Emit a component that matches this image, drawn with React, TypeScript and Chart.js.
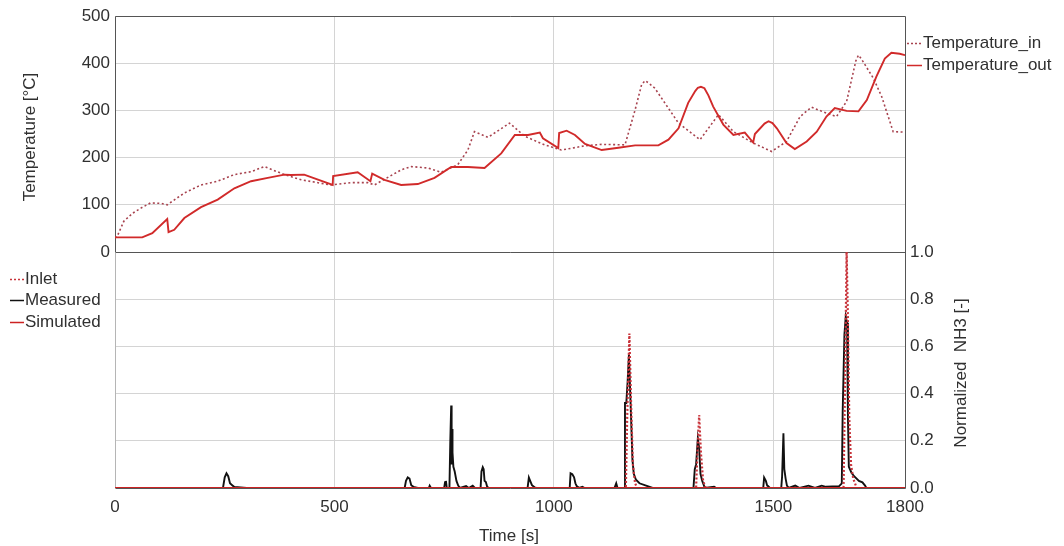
import React, { useEffect, useRef } from 'react';
import { Chart, registerables } from 'chart.js';

Chart.register(...registerables);

// ---------- data ----------
const timeTicks = [0, 500, 1000, 1500, 1800];
const tempTicks = [0, 100, 200, 300, 400, 500];
const nh3Ticks = [0, 0.2, 0.4, 0.6, 0.8, 1.0];

const tempInTime = [0, 5, 20, 40, 59, 81, 105, 119, 158, 196, 234, 272, 310, 340, 386, 424, 492, 538, 576, 591, 652, 675, 713, 743, 781, 804, 819, 850, 899, 934, 979, 1017, 1071, 1109, 1162, 1185, 1200, 1208, 1216, 1230, 1284, 1333, 1375, 1409, 1454, 1496, 1530, 1561, 1587, 1621, 1644, 1667, 1688, 1694, 1700, 1728, 1747, 1773, 1800];
const tempInValue = [30, 33, 65, 82, 93, 104, 103, 100, 125, 142, 150, 164, 170, 181, 164, 153, 142, 147, 147, 142, 174, 181, 178, 169, 185, 216, 255, 243, 273, 245, 227, 216, 225, 228, 227, 301, 355, 363, 358, 347, 273, 238, 291, 255, 231, 213, 234, 287, 307, 294, 287, 319, 405, 417, 410, 368, 329, 255, 254];

const tempOutTime = [0, 62, 85, 119, 122, 135, 158, 196, 234, 272, 310, 348, 386, 401, 431, 496, 497, 553, 582, 586, 614, 652, 690, 728, 766, 804, 842, 880, 911, 941, 968, 975, 1010, 1012, 1029, 1048, 1071, 1109, 1147, 1185, 1238, 1261, 1284, 1306, 1322, 1328, 1335, 1343, 1352, 1363, 1386, 1409, 1435, 1454, 1458, 1480, 1489, 1498, 1508, 1530, 1549, 1576, 1599, 1621, 1640, 1667, 1694, 1713, 1735, 1754, 1769, 1788, 1800];
const tempOutValue = [31, 31, 40, 70, 42, 47, 72, 95, 111, 135, 150, 157, 164, 163, 164, 142, 161, 169, 150, 166, 153, 142, 144, 157, 180, 180, 178, 209, 248, 248, 253, 241, 220, 252, 257, 248, 229, 216, 221, 226, 226, 238, 262, 316, 341, 348, 350, 347, 332, 308, 270, 248, 253, 232, 250, 272, 277, 273, 262, 231, 218, 234, 255, 287, 305, 299, 298, 322, 372, 410, 422, 420, 417];

const inletTime = [0, 1164, 1167, 1172, 1176, 1180, 1185, 1190, 1324, 1327, 1331, 1335, 1340, 1346, 1660, 1663, 1667, 1670, 1673, 1677, 1682, 1690, 1800];
const inletValue = [0, 0, 0.3, 0.655, 0.35, 0.1, 0.02, 0, 0, 0.15, 0.309, 0.15, 0.03, 0, 0, 0.4, 1.0, 0.7, 0.3, 0.1, 0.04, 0, 0];

const measuredTime = [0, 246, 250, 254, 258, 262, 267, 272, 300, 660, 663, 667, 671, 675, 680, 690, 715, 717, 720, 750, 752, 754, 756, 762, 764, 766, 767, 768, 769, 771, 774, 778, 782, 786, 800, 806, 815, 820, 833, 835, 838, 840, 842, 845, 848, 852, 940, 943, 946, 950, 956, 960, 1036, 1038, 1042, 1046, 1049, 1052, 1058, 1065, 1070, 1138, 1142, 1145, 1160, 1162, 1165, 1168, 1171, 1174, 1176, 1179, 1182, 1187, 1195, 1210, 1225, 1318, 1321, 1324, 1328, 1331, 1334, 1338, 1344, 1365, 1370, 1477, 1479, 1483, 1486, 1488, 1492, 1518, 1520, 1523, 1525, 1528, 1531, 1535, 1550, 1560, 1580, 1595, 1610, 1620, 1650, 1656, 1658, 1662, 1665, 1668, 1670, 1672, 1678, 1684, 1695, 1703, 1709, 1712, 1800];
const measuredValue = [0, 0, 0.045, 0.062, 0.05, 0.02, 0.012, 0.004, 0, 0, 0.03, 0.045, 0.04, 0.012, 0.005, 0, 0, 0.01, 0, 0, 0.025, 0.03, 0, 0, 0.2, 0.35, 0.1, 0.25, 0.15, 0.09, 0.07, 0.03, 0.01, 0, 0.008, 0, 0.01, 0, 0, 0.07, 0.088, 0.08, 0.03, 0.025, 0.005, 0, 0, 0.044, 0.03, 0.012, 0.003, 0, 0, 0.062, 0.058, 0.045, 0.02, 0.008, 0, 0.005, 0, 0, 0.02, 0, 0, 0.36, 0.36, 0.45, 0.564, 0.4, 0.29, 0.12, 0.06, 0.035, 0.02, 0.01, 0, 0, 0.08, 0.1, 0.21, 0.17, 0.06, 0.03, 0, 0.005, 0, 0, 0.044, 0.03, 0.01, 0.008, 0, 0, 0.05, 0.232, 0.08, 0.04, 0.01, 0, 0.01, 0, 0.01, 0, 0.01, 0.005, 0.008, 0.02, 0.32, 0.65, 0.726, 0.7, 0.3, 0.09, 0.065, 0.05, 0.03, 0.024, 0.01, 0, 0];

const simulatedTime = [0, 600, 1200, 1800];
const simulatedValue = [0, 0, 0, 0];

// ---------- styles ----------
const FONT = '"Liberation Sans", Arial, Helvetica, sans-serif';
const TEXT = '#303030';
const GRID = '#d4d4d4';
const BORDER = '#555555';
const TIN_COLOR = '#a8434f';
const TOUT_COLOR = '#d12a2a';
const INLET_COLOR = '#c8333a';
const MEAS_COLOR = '#111111';
const SIM_COLOR = '#cc2222';

const pairs = (xs: number[], ys: number[]) => xs.map((x, i) => ({ x, y: ys[i] }));

export default function App() {
  const ref = useRef<HTMLCanvasElement>(null);

  useEffect(() => {
    const canvas = ref.current;
    if (!canvas) return;

    const overlay = {
      id: 'overlay',
      beforeDatasetsDraw(chart: any) {
        const { ctx, chartArea } = chart;
        const l = Math.round(chartArea.left) + 0.5;
        const r = Math.round(chartArea.right) + 0.5;
        const t = Math.round(chartArea.top) + 0.5;
        const b = Math.round(chartArea.bottom) + 0.5;
        const m = Math.round(chart.scales.yT.getPixelForValue(0)) + 0.5;
        ctx.save();
        ctx.lineWidth = 1;
        ctx.strokeStyle = BORDER;
        ctx.beginPath();
        ctx.moveTo(l, m); ctx.lineTo(l, t); ctx.lineTo(r, t); ctx.lineTo(r, b); ctx.lineTo(l, b);
        ctx.moveTo(l, m); ctx.lineTo(r, m);
        ctx.stroke();
        ctx.strokeStyle = '#b5b5b5';
        ctx.beginPath();
        ctx.moveTo(l, m); ctx.lineTo(l, b);
        ctx.stroke();
        ctx.restore();
      },
      afterDraw(chart: any) {
        const { ctx } = chart;
        ctx.save();
        ctx.font = `17px ${FONT}`;
        ctx.fillStyle = TEXT;
        ctx.textBaseline = 'middle';
        ctx.textAlign = 'left';

        const legendLine = (x1: number, x2: number, y: number, color: string, dash: number[], w: number) => {
          ctx.save();
          ctx.strokeStyle = color;
          ctx.lineWidth = w;
          ctx.setLineDash(dash);
          ctx.beginPath();
          ctx.moveTo(x1, y);
          ctx.lineTo(x2, y);
          ctx.stroke();
          ctx.restore();
        };

        // top legend
        legendLine(907, 922, 43.5, TIN_COLOR, [2, 2], 1.5);
        ctx.fillText('Temperature_in', 923, 43);
        legendLine(907, 922, 65.5, TOUT_COLOR, [], 1.5);
        ctx.fillText('Temperature_out', 923, 65);

        // bottom legend
        legendLine(10, 24, 279.5, INLET_COLOR, [2, 2], 1.5);
        ctx.fillText('Inlet', 25, 279);
        legendLine(10, 24, 300.5, MEAS_COLOR, [], 1.5);
        ctx.fillText('Measured', 25, 300);
        legendLine(10, 24, 322.5, SIM_COLOR, [], 1.5);
        ctx.fillText('Simulated', 25, 322);

        // axis titles
        ctx.textAlign = 'center';
        ctx.fillText('Time [s]', 509, 536);

        ctx.save();
        ctx.translate(30, 137);
        ctx.rotate(-Math.PI / 2);
        ctx.fillText('Temperature [\u00B0C]', 0, 0);
        ctx.restore();

        ctx.save();
        ctx.translate(961, 373);
        ctx.rotate(-Math.PI / 2);
        ctx.fillText('Normalized  NH3 [-]', 0, 0);
        ctx.restore();

        ctx.restore();
      },
    };

    const chart = new Chart(canvas, {
      type: 'line',
      data: {
        datasets: [
          {
            label: 'Simulated',
            data: pairs(simulatedTime, simulatedValue),
            yAxisID: 'yN',
            borderColor: SIM_COLOR,
            borderWidth: 2,
            order: 0,
          },
          {
            label: 'Inlet',
            data: pairs(inletTime, inletValue),
            yAxisID: 'yN',
            borderColor: INLET_COLOR,
            borderWidth: 2.2,
            borderDash: [2, 2],
            order: 1,
          },
          {
            label: 'Measured',
            data: pairs(measuredTime, measuredValue),
            yAxisID: 'yN',
            borderColor: MEAS_COLOR,
            borderWidth: 1.9,
            order: 2,
          },
          {
            label: 'Temperature_in',
            data: pairs(tempInTime, tempInValue),
            yAxisID: 'yT',
            borderColor: TIN_COLOR,
            borderWidth: 1.6,
            borderDash: [2, 2.5],
            order: 4,
          },
          {
            label: 'Temperature_out',
            data: pairs(tempOutTime, tempOutValue),
            yAxisID: 'yT',
            borderColor: TOUT_COLOR,
            borderWidth: 1.9,
            order: 3,
          },
        ],
      } as any,
      options: {
        responsive: false,
        animation: false,
        devicePixelRatio: 1,
        layout: { padding: { left: 0, right: 0, top: 16, bottom: 0 } },
        plugins: { legend: { display: false }, tooltip: { enabled: false } },
        elements: { point: { radius: 0 }, line: { tension: 0 } },
        scales: {
          x: {
            type: 'linear',
            min: 0,
            max: 1800,
            afterBuildTicks: (s: any) => {
              s.ticks = timeTicks.map((v) => ({ value: v }));
            },
            afterFit: (s: any) => {
              s.height = 58;
            },
            grid: {
              color: (c: any) => (c.tick && (c.tick.value === 0 || c.tick.value === 1800) ? 'rgba(0,0,0,0)' : GRID),
              drawTicks: false,
            },
            border: { display: false },
            ticks: {
              autoSkip: false,
              maxRotation: 0,
              padding: 9,
              color: TEXT,
              font: { family: FONT, size: 17 },
              callback: (v: any) => String(v),
            },
          },
          yT: {
            type: 'linear',
            position: 'left',
            min: -500,
            max: 500,
            afterBuildTicks: (s: any) => {
              const arr: { value: number }[] = [];
              for (let v = -500; v <= 500; v += 100) arr.push({ value: v });
              s.ticks = arr;
            },
            afterFit: (s: any) => {
              s.width = 115;
            },
            grid: { color: GRID, drawTicks: false },
            border: { display: false },
            ticks: {
              padding: 5,
              color: TEXT,
              font: { family: FONT, size: 17 },
              callback: (v: any) => (tempTicks.indexOf(Number(v)) >= 0 ? String(v) : ''),
            },
          },
          yN: {
            type: 'linear',
            position: 'right',
            min: 0,
            max: 2,
            afterBuildTicks: (s: any) => {
              s.ticks = nh3Ticks.map((v) => ({ value: v }));
            },
            afterFit: (s: any) => {
              s.width = 159;
            },
            grid: { display: false, drawTicks: false },
            border: { display: false },
            ticks: {
              padding: 5,
              color: TEXT,
              font: { family: FONT, size: 17 },
              callback: (v: any) => Number(v).toFixed(1),
            },
          },
        },
      } as any,
      plugins: [overlay],
    });

    return () => chart.destroy();
  }, []);

  return (
    <div style={{ position: 'absolute', left: 0, top: 0, width: 1064, height: 546, background: '#ffffff' }}>
      <canvas ref={ref} width={1064} height={546} style={{ display: 'block' }} />
    </div>
  );
}
